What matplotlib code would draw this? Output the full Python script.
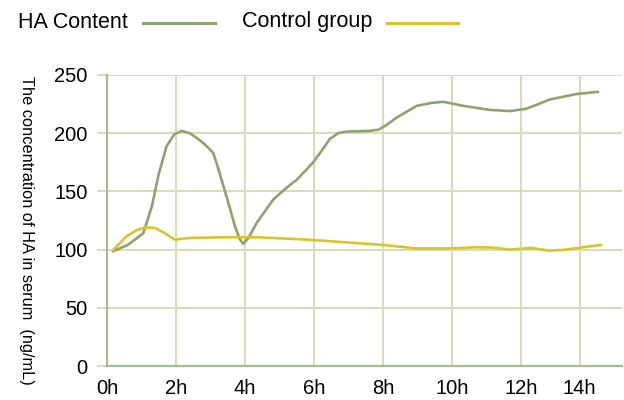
import numpy as np
import matplotlib.pyplot as plt
from matplotlib.lines import Line2D

# values (hours, ng/mL)
ha_hours = [0.17, 0.6, 1.05, 1.3, 1.5, 1.73, 1.95, 2.17, 2.4, 2.6, 2.85, 3.08, 3.2, 3.37,
            3.55, 3.71, 3.85, 3.95, 4.1, 4.34, 4.82, 5.2, 5.5, 5.98, 6.2, 6.46, 6.7, 6.85,
            7.04, 7.62, 7.87, 8.1, 8.4, 8.98, 9.4, 9.75, 10.33, 11.1, 11.68, 12.16, 12.84,
            13.6, 14.24]
ha_values = [98.5, 104, 114, 137, 165, 189, 199, 202, 200, 196, 190, 183, 172, 155,
             137, 120, 109, 105, 110, 123, 143, 153, 160, 175, 184, 195, 200, 201,
             201.5, 202, 203, 207, 213.5, 223.5, 226, 227, 223.5, 220, 219, 221, 229,
             233.6, 235.6]

ctrl_hours = [0.17, 0.57, 0.85, 1.1, 1.39, 1.68, 1.97, 2.4, 3.37, 4.34, 5.79, 7.04, 8.0,
              8.98, 9.94, 10.7, 11.2, 11.68, 12.3, 12.84, 13.3, 13.8, 14.33]
ctrl_values = [99.4, 111.5, 116.5, 119, 118.7, 114, 108.6, 110, 110.6, 110.6, 108.6, 106,
               104, 101, 101, 102, 101.7, 100, 101.5, 99, 100, 102, 104]

tick_pos = [0, 2, 4, 6, 8, 10, 12, 13.7]
tick_labels = ["0h", "2h", "4h", "6h", "8h", "10h", "12h", "14h"]
y_ticks = [0, 50, 100, 150, 200, 250]

HA_COLOR = "#8ea46c"
CTRL_COLOR = "#d6c62a"
GRID_COLOR = "#d3dfb9"
SPINE_COLOR = "#a9bd88"

plt.rcParams.update({"font.family": ["Liberation Sans", "DejaVu Sans"]})

fig = plt.figure(figsize=(6.24, 4.0), dpi=100)
ax = fig.add_axes([107 / 624, 34 / 400, 515 / 624, 291 / 400])

ax.plot(ha_hours, ha_values, color=HA_COLOR, linewidth=1.9, solid_joinstyle="round",
        solid_capstyle="round", zorder=3)
ax.plot(ctrl_hours, ctrl_values, color=CTRL_COLOR, linewidth=1.9, solid_joinstyle="round",
        solid_capstyle="round", zorder=3)

ax.set_xlim(0, 14.93)
ax.set_ylim(0, 250)
ax.set_xticks(tick_pos)
ax.set_xticklabels(tick_labels, fontsize=14.5)
ax.set_yticks(y_ticks)
ax.set_yticklabels([str(v) for v in y_ticks], fontsize=14.5)
ax.grid(True, color=GRID_COLOR, linewidth=1.4, zorder=0)
ax.tick_params(axis="y", length=7, width=1.4, color=GRID_COLOR, pad=7)
ax.tick_params(axis="x", length=0, pad=9)

for side in ("top", "right"):
    ax.spines[side].set_visible(False)
for side in ("left", "bottom"):
    ax.spines[side].set_color(SPINE_COLOR)
    ax.spines[side].set_linewidth(1.6)

fig.text(19 / 624, 1 - 230 / 400, "The concentration of HA in serum  (ng/mL)", rotation=-90,
         va="center", ha="left", fontsize=11.8)

# legend across the top
fig.text(18 / 624, 1 - 22 / 400, "HA Content", fontsize=15.5, va="center", ha="left")
fig.add_artist(Line2D([143 / 624, 215 / 624], [1 - 23 / 400] * 2, color=HA_COLOR, linewidth=2.2))
fig.text(242 / 624, 1 - 22 / 400, "Control group", fontsize=15.5, va="center", ha="left")
fig.add_artist(Line2D([387 / 624, 458 / 624], [1 - 23 / 400] * 2, color=CTRL_COLOR, linewidth=2.2))

fig.savefig("out.png", dpi=100)
